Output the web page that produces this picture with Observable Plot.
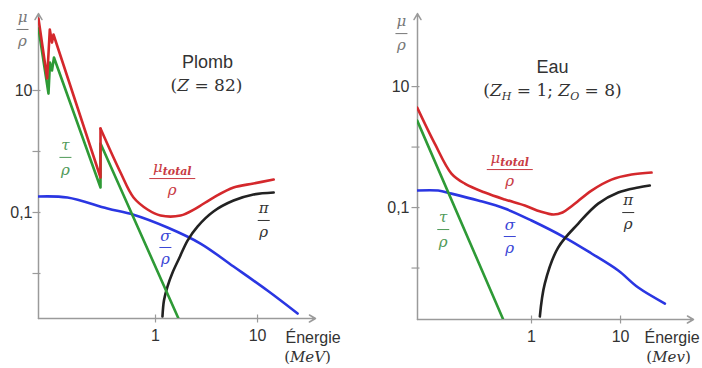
<!DOCTYPE html>
<html><head><meta charset="utf-8">
<script src="https://cdn.jsdelivr.net/npm/d3@7"></script>
<script src="https://cdn.jsdelivr.net/npm/@observablehq/plot@0.6"></script>
<style>
body{margin:0;background:#fff;}
#wrap{display:flex;width:702px;height:368px;background:#fff;}
</style></head><body><div id="wrap"></div>
<script>
// ---------- Plomb (Z = 82) : energy (MeV) / mass attenuation (cm2/g) ----------
const plombTotalE = [0.0713, 0.0867, 0.092, 0.0967, 0.1, 0.289, 0.289, 0.454, 0.609, 0.835, 1.12, 1.76, 2.47, 3.70, 5.82, 9.13, 14.4];
const plombTotalV = [151, 15.7, 100, 61, 82.8, 0.375, 2.38, 0.452, 0.176, 0.112, 0.0893, 0.0893, 0.116, 0.176, 0.257, 0.299, 0.347];
const plombTauE = [0.0713, 0.0893, 0.0924, 0.0967, 0.1011, 0.289, 0.289, 1.68];
const plombTauV = [104, 8.9, 28.8, 21.3, 34.7, 0.257, 1.35, 0.00183];
const plombSigmaE = [0.0713, 0.137, 0.338, 0.609, 1.31, 2.76, 5.82, 12.5, 24.7];
const plombSigmaV = [0.183, 0.176, 0.116, 0.092, 0.0568, 0.031, 0.013, 0.00526, 0.00221];
const plombPiE = [1.17, 1.21, 1.31, 1.47, 1.72, 2.06, 2.58, 3.70, 5.82, 9.13, 14.4];
const plombPiV = [0.00197, 0.00361, 0.00612, 0.0104, 0.0183, 0.0347, 0.0589, 0.104, 0.157, 0.197, 0.213];

// ---------- Eau (Z_H = 1 ; Z_O = 8) ----------
const eauTotalE = [0.052, 0.0819, 0.126, 0.178, 0.299, 0.501, 0.841, 1.26, 1.77, 2.23, 2.89, 4.72, 7.92, 13.3, 22.3];
const eauTotalV = [4.5, 1.14, 0.365, 0.249, 0.177, 0.136, 0.108, 0.0859, 0.0766, 0.0827, 0.108, 0.191, 0.290, 0.351, 0.379];
const eauTauE = [0.052, 0.481];
const eauTauV = [2.74, 0.00141];
const eauSigmaE = [0.052, 0.0895, 0.126, 0.252, 0.501, 1.0, 2.37, 4.72, 9.42, 15.8, 31.5];
const eauSigmaV = [0.191, 0.191, 0.170, 0.131, 0.0963, 0.061, 0.0319, 0.0174, 0.0091, 0.00476, 0.00259];
const eauPiE = [1.24, 1.41, 1.99, 3.35, 5.61, 9.42, 15.8, 21.3];
const eauPiV = [0.00158, 0.00554, 0.0218, 0.0544, 0.116, 0.177, 0.214, 0.231];

// ---------- ticks ----------
const xTicks = [1, 10];
const xTickLabels = ["1", "10"];
const yTicks = [10, 1, 0.1, 0.01];
const yTickLabels = ["10", "", "0,1", ""];

const COL = {total: "#d4282c", tau: "#2e9a36", sigma: "#2a36e2", pi: "#222222"};
const LAB = {total: "#c83a44", tau: "#4f9a58", sigma: "#3a46d6", pi: "#333333"};
const SANS = "Liberation Sans, Arial, sans-serif";
const SERIF = "DejaVu Serif, serif";
const AXIS = "#9a9a9a";

const series = (E, V) => E.map((e, i) => ({e, v: V[i]}));

function panel(o) {
  const [x0, x1] = o.xd, [y0, y1] = o.yd;
  const decX = (o.width - o.ml - o.mr) / Math.log10(x1 / x0);
  const decY = (o.height - o.mt - o.mb) / Math.log10(y1 / y0);
  const kx = px => 10 ** (px / decX), ky = px => 10 ** (px / decY);
  const marks = [];
  marks.push(Plot.arrow([{}], {x1: () => x0, y1: () => y0, x2: () => x1, y2: () => y0, stroke: AXIS, strokeWidth: 1.5, headLength: 7}));
  marks.push(Plot.arrow([{}], {x1: () => x0, y1: () => y0, x2: () => x0, y2: () => y1, stroke: AXIS, strokeWidth: 1.5, headLength: 7}));
  marks.push(Plot.link(xTicks, {x1: d => d, x2: d => d, y1: () => y0 / ky(4), y2: () => y0 * ky(4), stroke: AXIS, strokeWidth: 1.2}));
  marks.push(Plot.link(yTicks, {y1: d => d, y2: d => d, x1: () => x0 / kx(6), x2: () => x0 * kx(2), stroke: AXIS, strokeWidth: 1.2}));
  marks.push(Plot.text(xTicks, {x: d => d, y: () => y0, dy: 17, text: (d, i) => xTickLabels[i], fontSize: 16, fontFamily: SANS, fill: "#333"}));
  marks.push(Plot.text(yTicks, {x: () => x0, y: d => d, dx: -o.ytdx, textAnchor: "end", text: (d, i) => yTickLabels[i], fontSize: 16, fontFamily: SANS, fill: "#333"}));
  for (const c of o.curves) {
    const pts = series(c.E, c.V);
    const opts = {x: "e", y: "v", stroke: c.color, strokeWidth: 2.6, clip: true, strokeLinejoin: "round"};
    if (c.smoothFrom != null) {
      marks.push(Plot.line(pts.slice(0, c.smoothFrom + 1), {...opts, curve: "linear"}));
      marks.push(Plot.line(pts.slice(c.smoothFrom), {...opts, curve: "catmull-rom"}));
    } else {
      marks.push(Plot.line(pts, {...opts, curve: c.curve || "linear"}));
    }
  }
  for (const f of o.fracs) {
    const base = {x: "e", y: "v", fill: f.color, fontFamily: SERIF, fontStyle: "italic"};
    marks.push(Plot.text([f], {...base, text: "num", dy: -f.dn, fontSize: f.size}));
    marks.push(Plot.text([f], {...base, text: "den", dy: f.dd, fontSize: f.size}));
    marks.push(Plot.link([f], {x1: d => d.e / kx(d.hw), x2: d => d.e * kx(d.hw), y1: "v", y2: "v", stroke: f.color, strokeWidth: 1}));
  }
  for (const t of o.texts) {
    marks.push(Plot.text([t], {x: "e", y: "v", text: "t", fontSize: t.size, fontFamily: t.font, fill: t.color || "#333", textAnchor: t.anchor || "middle"}));
  }
  const svg = Plot.plot({
    width: o.width, height: o.height,
    marginLeft: o.ml, marginRight: o.mr, marginTop: o.mt, marginBottom: o.mb,
    x: {type: "log", domain: o.xd, axis: null},
    y: {type: "log", domain: o.yd, axis: null},
    style: {background: "#fff", fontFamily: SANS, color: "#333", overflow: "visible"},
    marks
  });
  const rich = {
    "(Z = 82)": '(<tspan font-style="italic">Z</tspan> = 82)',
    "(Z_H = 1; Z_O = 8)": '(<tspan font-style="italic">Z</tspan><tspan font-style="italic" font-size="11" dy="4">H</tspan><tspan dy="-4"> = 1; </tspan><tspan font-style="italic">Z</tspan><tspan font-style="italic" font-size="11" dy="4">O</tspan><tspan dy="-4"> = 8)</tspan>',
    "μ_total": 'μ<tspan font-size="11" font-weight="bold" dy="3">total</tspan>',
    "(MeV)": '(<tspan font-style="italic">MeV</tspan>)',
    "(Mev)": '(<tspan font-style="italic">Mev</tspan>)'
  };
  d3.select(svg).selectAll("text").each(function () {
    const t = this.textContent;
    if (rich[t]) this.innerHTML = rich[t];
  });
  return svg;
}

const left = panel({
  width: 351, height: 368, ml: 38, mr: 36, mt: 13, mb: 50,
  xd: [0.0713, 37.0], yd: [0.00183, 182.8], ytdx: 6,
  curves: [
    {E: plombSigmaE, V: plombSigmaV, color: COL.sigma, curve: "catmull-rom"},
    {E: plombPiE, V: plombPiV, color: COL.pi, curve: "catmull-rom"},
    {E: plombTauE, V: plombTauV, color: COL.tau},
    {E: plombTotalE, V: plombTotalV, color: COL.total, smoothFrom: 6}
  ],
  fracs: [
    {num: "μ", den: "ρ", e: 0.0497, v: 100, color: "#777", hw: 6, dn: 12, dd: 12, size: 15},
    {num: "τ", den: "ρ", e: 0.131, v: 0.80, color: LAB.tau, hw: 6, dn: 12, dd: 13, size: 15},
    {num: "μ_total", den: "ρ", e: 1.46, v: 0.36, color: LAB.total, hw: 23, dn: 11, dd: 12, size: 15},
    {num: "σ", den: "ρ", e: 1.25, v: 0.0267, color: LAB.sigma, hw: 6, dn: 11, dd: 12, size: 15},
    {num: "π", den: "ρ", e: 11.5, v: 0.074, color: LAB.pi, hw: 6, dn: 12, dd: 12, size: 15}
  ],
  texts: [
    {t: "Plomb", e: 3.24, v: 28.8, size: 18, font: SANS},
    {t: "(Z = 82)", e: 3.16, v: 12.1, size: 17, font: SERIF},
    {t: "Énergie", e: 18.8, v: 0.000893, size: 16, font: SANS, anchor: "start"},
    {t: "(MeV)", e: 30.9, v: 0.00042, size: 15, font: SERIF}
  ]
});

const right = panel({
  width: 351, height: 368, ml: 66, mr: 9, mt: 13, mb: 49,
  xd: [0.0524, 66], yd: [0.00141, 161.6], ytdx: 8,
  curves: [
    {E: eauSigmaE, V: eauSigmaV, color: COL.sigma, curve: "catmull-rom"},
    {E: eauPiE, V: eauPiV, color: COL.pi, curve: "catmull-rom"},
    {E: eauTauE, V: eauTauV, color: COL.tau},
    {E: eauTotalE, V: eauTotalV, color: COL.total, curve: "catmull-rom"}
  ],
  fracs: [
    {num: "μ", den: "ρ", e: 0.0346, v: 75.2, color: "#777", hw: 6, dn: 12, dd: 12, size: 15},
    {num: "τ", den: "ρ", e: 0.102, v: 0.0433, color: LAB.tau, hw: 6, dn: 12, dd: 13, size: 15},
    {num: "μ_total", den: "ρ", e: 0.570, v: 0.425, color: LAB.total, hw: 23, dn: 11, dd: 12, size: 15},
    {num: "σ", den: "ρ", e: 0.570, v: 0.0332, color: LAB.sigma, hw: 6, dn: 11, dd: 12, size: 15},
    {num: "π", den: "ρ", e: 12.2, v: 0.0827, color: LAB.pi, hw: 6, dn: 12, dd: 12, size: 15}
  ],
  texts: [
    {t: "Eau", e: 1.72, v: 20.6, size: 18, font: SANS},
    {t: "(Z_H = 1; Z_O = 8)", e: 1.72, v: 8.59, size: 17, font: SERIF},
    {t: "Énergie", e: 18.6, v: 0.00071, size: 16, font: SANS, anchor: "start"},
    {t: "(Mev)", e: 34.6, v: 0.00033, size: 15, font: SERIF}
  ]
});

document.getElementById("wrap").append(left, right);
</script>
</body></html>
